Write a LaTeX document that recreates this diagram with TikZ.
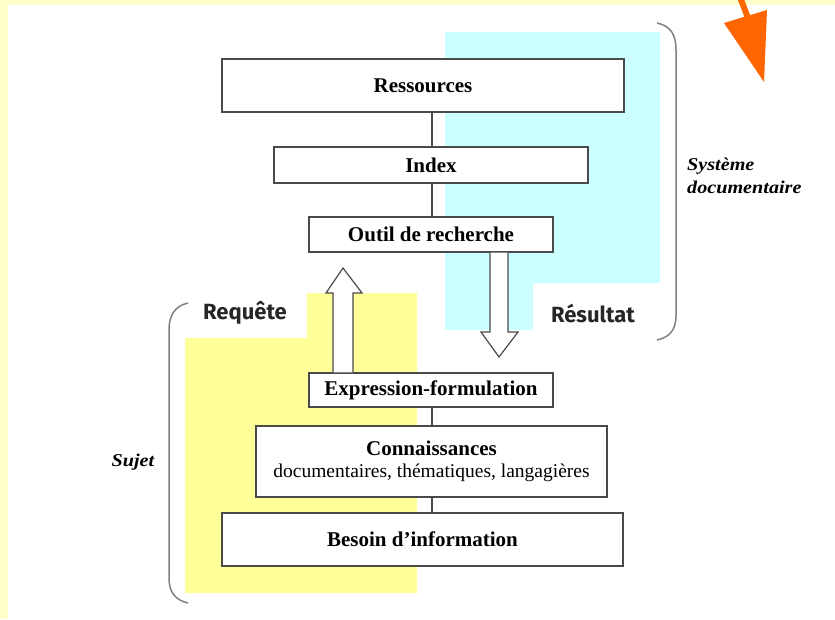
\documentclass[tikz,border=0pt]{standalone}
\usepackage{fontspec}
\setmainfont{Liberation Serif}
\newfontfamily\lblfont{Fira Sans}
\usetikzlibrary{calc}
\definecolor{bandyellow}{HTML}{FFFFCC}
\definecolor{zoneyellow}{HTML}{FFFF99}
\definecolor{zonecyan}{HTML}{CCFFFF}
\definecolor{boxline}{HTML}{4A4A4A}
\definecolor{braceline}{HTML}{808080}
\definecolor{hintorange}{HTML}{FF6600}
\tikzset{
  stepbox/.style={draw=boxline, line width=1.4pt, fill=white, inner sep=0pt, align=center,
    font=\fontsize{21}{25}\selectfont\bfseries},
  link/.style={draw=boxline, line width=1.4pt},
  blockarrow/.style={draw=boxline, line width=1.2pt, fill=white, line join=miter},
  bracepath/.style={draw=braceline, line width=1.5pt},
  zonelabel/.style={font=\lblfont\fontsize{22}{26}\selectfont\bfseries, text=black!85},
  sidelabel/.style={font=\fontsize{18}{23}\selectfont\bfseries\itshape, align=left, inner sep=0pt,
    xscale=1.12, transform shape}
}
\begin{document}
\begin{tikzpicture}[x=1pt,y=-1pt]
\useasboundingbox (0,0) rectangle (835,619);
% background and frame band
\fill[white] (0,0) rectangle (835,619);
\fill[bandyellow] (0,0) rectangle (835,5);
\fill[bandyellow] (0,0) rectangle (8,619);
% coloured zones
\fill[zonecyan] (445,32) -- (660,32) -- (660,283) -- (533,283) -- (533,330) -- (445,330) -- cycle;
\fill[zoneyellow] (307,293) -- (417,293) -- (417,593) -- (185,593) -- (185,338) -- (307,338) -- cycle;
% boxes
\node[stepbox, minimum width=402, minimum height=53] (res) at (423,85.5) {Ressources};
\node[stepbox, minimum width=314, minimum height=36] (idx) at (431,165) {Index};
\node[stepbox, minimum width=244, minimum height=35] (outil) at (431,234.5) {Outil de recherche};
\node[stepbox, minimum width=244, minimum height=34] (expr) at (431,390) {Expression-formulation};
\node[stepbox, minimum width=351, minimum height=71] (conn) at (431.5,461.5)
  {Connaissances\\[-3pt]{\fontsize{19.5}{23}\selectfont\mdseries documentaires, th\'ematiques, langagi\`eres}};
\node[stepbox, minimum width=401, minimum height=53] (bes) at (422.5,539.5) {Besoin d'information};
% vertical links
\draw[link] (res.south -| 432,0) -- (idx.north -| 432,0);
\draw[link] (idx.south -| 432,0) -- (outil.north -| 432,0);
\draw[link] (expr.south -| 432,0) -- (conn.north -| 432,0);
\draw[link] (conn.south -| 432,0) -- (bes.north -| 432,0);
% block arrow up (Requete)
\coordinate (upbase) at (expr.north -| 343,0);
\coordinate (uptip) at (343,268);
\draw[blockarrow] ($(upbase)+(-10,0)$) -- (333,293) -- (326,293) -- (uptip) -- (362,293) -- (353,293) -- ($(upbase)+(10,0)$);
% block arrow down (Resultat)
\coordinate (downbase) at (outil.south -| 499,0);
\coordinate (downtip) at (499,357);
\draw[blockarrow] ($(downbase)+(-9,0)$) -- (490,332) -- (481,332) -- (downtip) -- (518,332) -- (508,332) -- ($(downbase)+(9,0)$);
% zone labels
\node[zonelabel] (req) at (245,313) {Requête};
\node[zonelabel] (resu) at (593,313) {Résultat};
% braces
\draw[bracepath] (657,23) .. controls (671,26) and (676,35) .. (676,50) -- (676,315) .. controls (676,330) and (670,337) .. (657,340);
\draw[bracepath] (188,303) .. controls (175,306) and (169,315) .. (169,330) -- (169,578) .. controls (169,592) and (175,600) .. (188,603);
% side labels
\node[sidelabel, anchor=west] (sysdoc) at (687,176) {Système\\documentaire};
\node[sidelabel] (sujet) at (133,462) {Sujet};
% orange pointer
\draw[hintorange, line width=6pt] (740,-3) -- (748,18);
\fill[hintorange] (724,23) -- (767,10) -- (764,82) -- cycle;
\end{tikzpicture}
\end{document}
